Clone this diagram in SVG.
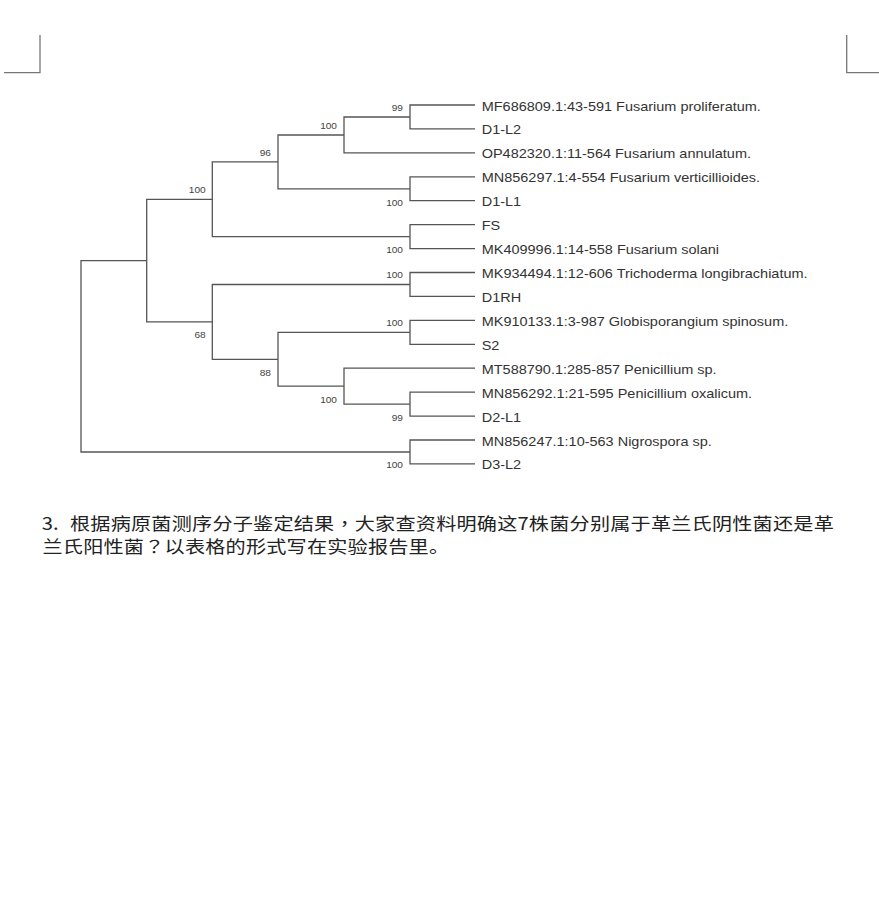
<svg xmlns="http://www.w3.org/2000/svg" width="879" height="900" viewBox="0 0 879 900">
<style>
.tree { fill: none; stroke: #555; stroke-width: 1.3; }
.corner { fill: none; stroke: #777; stroke-width: 1.3; }
.leaf { font-family: "Liberation Sans", Arial, sans-serif; font-size: 12.6px; fill: #333; }
.bs { font-family: "Liberation Sans", Arial, sans-serif; font-size: 8.8px; fill: #444; text-anchor: end; }
.cn { font-family: "Noto Sans CJK SC", sans-serif; font-size: 17.5px; fill: #222; letter-spacing: 0.2px; }
.pu { font-family: "Noto Sans CJK TC", sans-serif; }
</style>
<rect width="879" height="900" fill="#fff"/>
<g id="corners">
<path class="corner" d="M40 35 V72.7 H4"/>
<path class="corner" d="M846.7 35 V72.7 H879"/>
</g>
<g id="connectors">
<path class="tree" d="M475 105 H410 V128.9 H475"/>
<path class="tree" d="M410 117 H344 V152.9 H475"/>
<path class="tree" d="M475 176.8 H410 V200.7 H475"/>
<path class="tree" d="M344 135 H278 V188.8 H410"/>
<path class="tree" d="M475 224.7 H410 V248.6 H475"/>
<path class="tree" d="M278 161.9 H212.3 V236.6 H410"/>
<path class="tree" d="M475 272.5 H410 V296.4 H475"/>
<path class="tree" d="M475 320.4 H410 V344.3 H475"/>
<path class="tree" d="M475 392.2 H410 V416.1 H475"/>
<path class="tree" d="M475 368.2 H344 V404.2 H410"/>
<path class="tree" d="M410 332.3 H278 V386.2 H344"/>
<path class="tree" d="M410 284.5 H212.3 V359.3 H278"/>
<path class="tree" d="M212.3 199.3 H146.7 V321.9 H212.3"/>
<path class="tree" d="M475 440 H410 V463.9 H475"/>
<path class="tree" d="M146.7 260.6 H81 V452 H410"/>
</g>
<g id="leaf-MF686809"><text class="leaf" transform="translate(481.7 110.5) scale(1.15 1)">MF686809.1:43-591 Fusarium proliferatum.</text></g>
<g id="leaf-D1-L2"><text class="leaf" transform="translate(481.7 134.4) scale(1.15 1)">D1-L2</text></g>
<g id="leaf-OP482320"><text class="leaf" transform="translate(481.7 158.4) scale(1.15 1)">OP482320.1:11-564 Fusarium annulatum.</text></g>
<g id="leaf-MN856297"><text class="leaf" transform="translate(481.7 182.3) scale(1.15 1)">MN856297.1:4-554 Fusarium verticillioides.</text></g>
<g id="leaf-D1-L1"><text class="leaf" transform="translate(481.7 206.2) scale(1.15 1)">D1-L1</text></g>
<g id="leaf-FS"><text class="leaf" transform="translate(481.7 230.2) scale(1.15 1)">FS</text></g>
<g id="leaf-MK409996"><text class="leaf" transform="translate(481.7 254.1) scale(1.15 1)">MK409996.1:14-558 Fusarium solani</text></g>
<g id="leaf-MK934494"><text class="leaf" transform="translate(481.7 278) scale(1.15 1)">MK934494.1:12-606 Trichoderma longibrachiatum.</text></g>
<g id="leaf-D1RH"><text class="leaf" transform="translate(481.7 301.9) scale(1.15 1)">D1RH</text></g>
<g id="leaf-MK910133"><text class="leaf" transform="translate(481.7 325.9) scale(1.15 1)">MK910133.1:3-987 Globisporangium spinosum.</text></g>
<g id="leaf-S2"><text class="leaf" transform="translate(481.7 349.8) scale(1.15 1)">S2</text></g>
<g id="leaf-MT588790"><text class="leaf" transform="translate(481.7 373.7) scale(1.15 1)">MT588790.1:285-857 Penicillium sp.</text></g>
<g id="leaf-MN856292"><text class="leaf" transform="translate(481.7 397.7) scale(1.15 1)">MN856292.1:21-595 Penicillium oxalicum.</text></g>
<g id="leaf-D2-L1"><text class="leaf" transform="translate(481.7 421.6) scale(1.15 1)">D2-L1</text></g>
<g id="leaf-MN856247"><text class="leaf" transform="translate(481.7 445.5) scale(1.15 1)">MN856247.1:10-563 Nigrospora sp.</text></g>
<g id="leaf-D3-L2"><text class="leaf" transform="translate(481.7 469.4) scale(1.15 1)">D3-L2</text></g>
<g id="node-A"><text class="bs" transform="translate(403 111) scale(1.15 1)">99</text></g>
<g id="node-B"><text class="bs" transform="translate(337 129) scale(1.15 1)">100</text></g>
<g id="node-D"><text class="bs" transform="translate(271 156) scale(1.15 1)">96</text></g>
<g id="node-F"><text class="bs" transform="translate(205.7 193) scale(1.15 1)">100</text></g>
<g id="node-C"><text class="bs" transform="translate(403 205.5) scale(1.15 1)">100</text></g>
<g id="node-E"><text class="bs" transform="translate(403 253) scale(1.15 1)">100</text></g>
<g id="node-G"><text class="bs" transform="translate(403 278) scale(1.15 1)">100</text></g>
<g id="node-L"><text class="bs" transform="translate(205.7 338) scale(1.15 1)">68</text></g>
<g id="node-H"><text class="bs" transform="translate(403 326) scale(1.15 1)">100</text></g>
<g id="node-K"><text class="bs" transform="translate(271 375.5) scale(1.15 1)">88</text></g>
<g id="node-J"><text class="bs" transform="translate(337 402.5) scale(1.15 1)">100</text></g>
<g id="node-I"><text class="bs" transform="translate(403 421) scale(1.15 1)">99</text></g>
<g id="node-N"><text class="bs" transform="translate(403 468) scale(1.15 1)">100</text></g>
<g id="question">
<text class="cn" transform="translate(41.7 530) scale(1.15 1)">3.</text>
<text class="cn" transform="translate(70 530) scale(1.15 1)">根据病原菌测序分子鉴定结果<tspan class="pu">，</tspan>大家查资料明确这7株菌分别属于革兰氏阴性菌还是革</text>
<text class="cn" transform="translate(42.5 552.5) scale(1.15 1)">兰氏阳性菌<tspan class="pu">？</tspan>以表格的形式写在实验报告里。</text>
</g>
</svg>
